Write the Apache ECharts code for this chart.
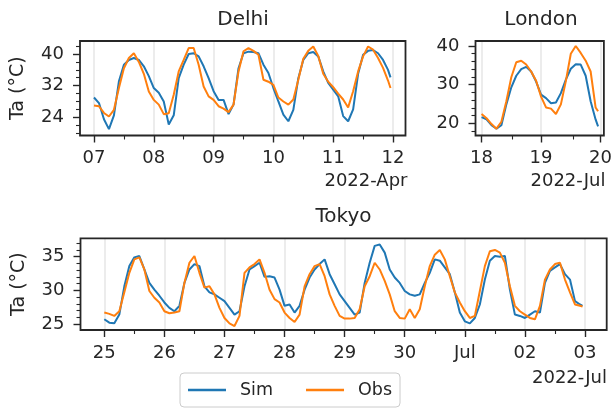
<!DOCTYPE html>
<html><head><meta charset="utf-8">
<script src="https://cdn.jsdelivr.net/npm/echarts@6/dist/echarts.min.js"></script>
<style>html,body{margin:0;padding:0;background:#fff}#c{width:615px;height:412px}</style>
</head><body><div id="c"></div>
<script>
// ---- Delhi (2022-Apr 07..11, 2-hourly, last point 11 23:00) ----
const delhiSim = [29.0,27.6,23.5,21.0,24.5,33.1,37.3,38.5,39.0,38.5,36.9,34.4,
  31.4,30.2,28.0,22.2,24.5,33.9,37.3,40.0,40.2,39.4,36.9,33.9,
  30.6,28.4,28.4,24.8,27.2,36.4,40.2,40.6,40.5,40.2,37.3,35.2,
  31.4,28.0,24.7,23.0,25.9,33.9,38.5,40.2,40.5,39.4,35.6,32.7,
  31.0,29.3,24.3,23.0,26.0,35.0,39.8,40.8,41.0,40.2,38.5,36.0,
  34.1];
const delhiObs = [27.0,26.8,25.1,24.2,25.9,31.4,36.4,39.0,40.2,38.0,35.0,30.5,
  28.4,27.2,24.8,25.0,29.7,35.6,38.5,41.5,41.5,37.3,31.8,29.3,
  28.4,26.8,26.2,25.3,27.2,35.6,40.7,41.5,40.8,39.8,33.5,33.0,
  32.2,29.0,28.0,27.2,28.5,33.5,38.8,40.8,41.9,39.5,35.0,33.0,
  31.6,30.0,28.5,26.5,30.6,35.6,39.4,41.9,41.1,39.0,36.5,33.3,
  31.4];
const delhiXTicks = ['07','08','09','10','11','12'];
const delhiYTicks = [24, 32, 40];
const delhiYMinor = [20, 22, 26, 28, 30, 34, 36, 38, 42];

// ---- London (2022-Jul 18..19) ----
const londonSim = [21.6,21.0,19.5,18.6,19.5,24.9,29.3,32.3,34.0,34.6,33.4,30.8,
  27.4,26.5,25.2,25.4,27.8,31.3,34.1,35.3,35.2,32.3,25.7,21.0,
  19.2];
const londonObs = [22.4,21.3,19.8,18.6,20.4,25.7,31.9,35.8,36.2,35.2,33.4,31.0,
  26.9,24.1,23.8,22.4,24.9,30.9,38.0,40.0,38.2,36.2,33.4,24.1,
  23.1];
const londonXTicks = ['18','19','20'];
const londonYTicks = [20, 30, 40];
const londonYMinor = [18, 22, 24, 26, 28, 32, 34, 36, 38];

// ---- Tokyo (2022-Jun 25 .. Jul 02) ----
const tokyoSim = [25.7,25.2,25.1,26.4,30.6,33.6,34.9,35.1,33.1,31.1,30.1,29.2,
  28.2,27.4,26.9,27.7,31.1,33.1,33.9,33.6,30.6,29.7,29.4,28.9,
  28.4,27.4,26.4,26.9,30.6,33.1,33.6,34.1,32.0,32.1,31.9,30.1,
  27.7,27.9,26.7,27.7,30.1,31.9,33.1,33.9,34.6,32.4,30.9,29.4,
  28.4,27.4,26.4,26.7,31.1,34.1,36.6,36.8,35.6,33.1,31.9,31.1,
  29.9,29.4,29.2,29.4,31.1,32.6,34.6,34.4,33.4,32.4,29.7,26.7,
  25.4,25.1,25.9,27.9,31.6,34.4,35.1,35.0,35.1,30.1,26.4,26.2,
  25.9,26.4,26.9,26.7,31.1,32.9,33.4,33.9,32.4,31.6,28.4,27.9,
  27.7];
const tokyoObs = [26.7,26.5,26.2,26.9,29.7,32.6,34.6,34.9,33.1,29.9,28.9,28.2,
  26.9,26.6,26.7,26.9,31.1,34.1,35.1,32.6,30.4,30.6,29.4,27.4,
  25.9,25.1,24.7,26.2,32.6,33.4,33.9,34.6,32.6,30.1,28.7,28.2,
  26.7,25.9,25.3,26.4,30.6,32.4,33.6,33.9,32.1,29.4,27.7,26.2,
  25.8,25.8,25.9,27.2,30.6,32.1,34.1,33.1,31.4,29.4,26.9,25.9,
  25.8,27.2,25.9,27.2,30.6,33.6,35.3,36.0,34.6,32.1,29.7,28.2,
  26.9,25.9,26.2,29.9,33.6,35.8,36.0,35.6,34.1,30.6,27.7,26.9,
  26.4,25.9,25.7,27.7,31.6,33.1,33.9,34.1,31.6,29.7,27.9,27.7,
  27.6];
const tokyoXTicks = ['25','26','27','28','29','30','Jul','02','03'];
const tokyoYTicks = [25, 30, 35];
const tokyoYMinor = [26, 27, 28, 29, 31, 32, 33, 34, 36, 37];

// time of each sample in days since the first tick (2-hourly, last sample at 23:00)
function sampleDays(nDays) {
  const t = [];
  for (let d = 0; d < nDays; d++) for (let h = 0; h < 24; h += 2) t.push(d + h / 24);
  t.push(nDays - 1 + 23 / 24);
  return t;
}
function pairs(vals, nDays) {
  const t = sampleDays(nDays);
  return vals.map((v, i) => [t[i], v]);
}
function halfDays(n) { const r = []; for (let i = 0; i < n; i++) r.push(i + 0.5); return r; }
function range(n) { const r = []; for (let i = 0; i <= n; i++) r.push(i); return r; }

const FONT = '"DejaVu Sans", "Liberation Sans", sans-serif';
const INK = '#262626';
const BLUE = '#1f77b4', ORANGE = '#ff7f0e';
const TICK_FS = 18;

const grids = [], xAxes = [], yAxes = [], series = [];

function panel(g, xmin, xmax, xLabels, ymin, ymax, yTicks, yMinor, showName, sim, obs) {
  const nDays = xLabels.length - 1;
  // main grid
  const gi = grids.length;
  grids.push(Object.assign({show: true, borderColor: INK, borderWidth: 1.8, z: 4}, g));
  const xi = xAxes.length;
  xAxes.push({
    type: 'value', gridIndex: gi, min: xmin, max: xmax, position: 'bottom',
    axisLine: {show: false, onZero: false},
    axisTick: {show: true, length: 7, lineStyle: {color: INK, width: 1.4}, customValues: range(nDays)},
    axisLabel: {customValues: range(nDays), formatter: v => xLabels[Math.round(v)],
      color: INK, fontSize: TICK_FS, fontFamily: FONT, margin: 14},
    splitLine: {show: true, lineStyle: {color: '#e6e6e6', width: 1.5}}
  });
  const yi = yAxes.length;
  yAxes.push({
    type: 'value', gridIndex: gi, min: ymin, max: ymax, position: 'left',
    axisLine: {show: false, onZero: false},
    axisTick: {show: true, length: 7, lineStyle: {color: INK, width: 1.4}, customValues: yTicks},
    axisLabel: {customValues: yTicks, color: INK, fontSize: TICK_FS, fontFamily: FONT, margin: 16},
    splitLine: {show: false},
    name: showName ? 'Ta (°C)' : '', nameLocation: 'middle', nameGap: 52,
    nameTextStyle: {color: INK, fontSize: 19, fontFamily: FONT}
  });
  // twin grid carrying the minor ticks
  const gm = grids.length;
  grids.push(Object.assign({show: false}, g));
  xAxes.push({
    type: 'value', gridIndex: gm, min: xmin, max: xmax, position: 'bottom',
    axisLine: {show: false, onZero: false},
    axisTick: {show: true, length: 4, lineStyle: {color: INK, width: 1.1}, customValues: halfDays(nDays)},
    axisLabel: {show: false}, splitLine: {show: false}
  });
  yAxes.push({
    type: 'value', gridIndex: gm, min: ymin, max: ymax, position: 'left',
    axisLine: {show: false, onZero: false},
    axisTick: {show: true, length: 4, lineStyle: {color: INK, width: 1.1}, customValues: yMinor},
    axisLabel: {show: false}, splitLine: {show: false}
  });
  const common = {type: 'line', xAxisIndex: xi, yAxisIndex: yi, symbol: 'none', smooth: false, z: 3};
  series.push(Object.assign({name: 'Sim', data: pairs(sim, nDays), lineStyle: {color: BLUE, width: 2}, itemStyle: {color: BLUE}}, common));
  series.push(Object.assign({name: 'Obs', data: pairs(obs, nDays), lineStyle: {color: ORANGE, width: 2}, itemStyle: {color: ORANGE}}, common));
}

panel({left: 80, top: 41, width: 325.5, height: 94.5}, -0.234, 5.209, delhiXTicks,
  19.4, 43.29, delhiYTicks, delhiYMinor, true, delhiSim, delhiObs);
panel({left: 475.5, top: 41, width: 131.2, height: 94.5}, -0.102, 2.056, londonXTicks,
  16.84, 41.29, londonYTicks, londonYMinor, false, londonSim, londonObs);
panel({left: 80.5, top: 238.3, width: 526.2, height: 91.7}, -0.396, 8.361, tokyoXTicks,
  24.11, 37.73, tokyoYTicks, tokyoYMinor, true, tokyoSim, tokyoObs);

function txt(s, x, y, size, align) {
  return {type: 'text', x: x, y: y, silent: true,
    style: {text: s, fill: INK, font: size + 'px ' + FONT, align: align, verticalAlign: 'middle',
      textAlign: align, textVerticalAlign: 'middle'}};
}

const chart = echarts.init(document.getElementById('c'), null, {renderer: 'canvas'});
chart.setOption({
  animation: false,
  backgroundColor: '#ffffff',
  textStyle: {fontFamily: FONT},
  grid: grids, xAxis: xAxes, yAxis: yAxes, series: series,
  legend: {
    data: ['Sim', 'Obs'], left: 180, top: 373, orient: 'horizontal',
    icon: 'rect', itemWidth: 38, itemHeight: 2.5, itemGap: 33,
    padding: [8, 8], borderColor: '#cccccc', borderWidth: 1, borderRadius: 4,
    textStyle: {color: INK, fontSize: 17.5, fontFamily: FONT, padding: [0, 0, 0, 9]}
  },
  graphic: [
    txt('Delhi', 243, 20, 20, 'center'),
    txt('London', 541, 20, 20, 'center'),
    txt('Tokyo', 343.5, 217, 20, 'center'),
    txt('2022-Apr', 407.5, 181, TICK_FS, 'right'),
    txt('2022-Jul', 605.5, 181, TICK_FS, 'right'),
    txt('2022-Jul', 607, 378, TICK_FS, 'right')
  ]
});
</script>
</body></html>
